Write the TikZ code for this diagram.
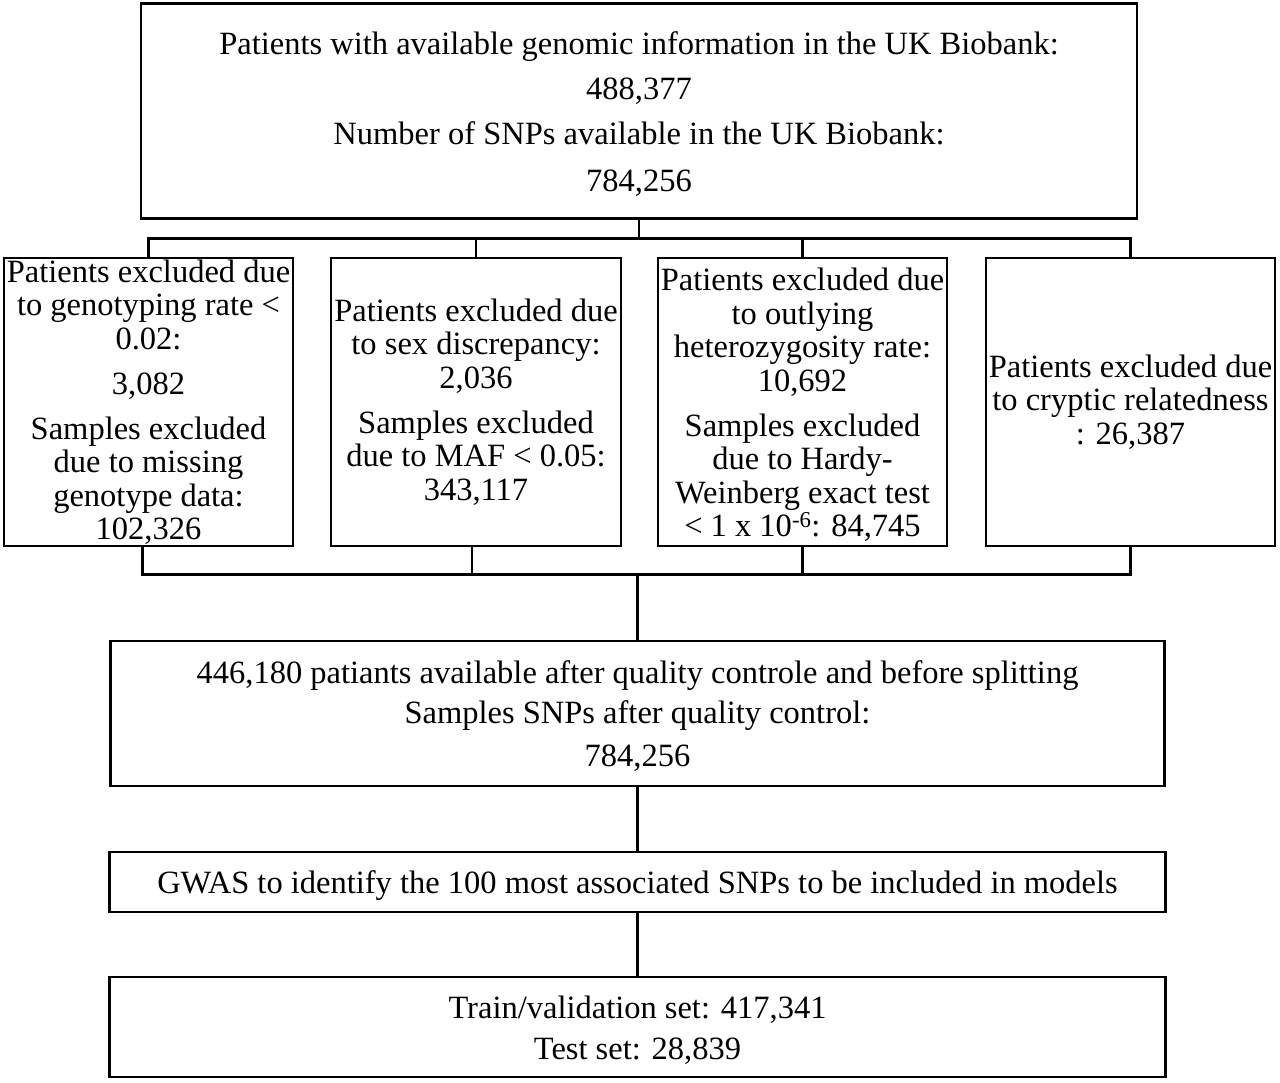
\documentclass[tikz,border=0pt]{standalone}
\usepackage{fontspec}
\setmainfont{Liberation Serif}
\usetikzlibrary{calc}
\begin{document}
\begin{tikzpicture}[x=1pt,y=-1pt,
  box/.style={draw, line width=2.6pt, inner sep=0pt, align=center, anchor=center},
  conn/.style={line width=2.6pt},
  txt/.style={font=\fontsize{32.5}{33.5}\selectfont}]
\useasboundingbox (0,0) rectangle (1280,1083);

\node[box, minimum width=996pt, minimum height=215pt, font=\fontsize{32.5}{45}\selectfont] (top) at (639,111)
  {\rule{0pt}{30pt}Patients with available genomic information in the UK Biobank:\\
   488,377\\
   Number of SNPs available in the UK Biobank:\\[2pt]
   784,256};

\node[box, txt, minimum width=289pt, minimum height=288pt] (b1) at (148.5,402)
  {Patients excluded due\\ to genotyping rate <\\ 0.02:\\[11.5pt]
   3,082\\[11.5pt]
   Samples excluded\\ due to missing\\ genotype data:\\ 102,326};

\node[box, txt, minimum width=290pt, minimum height=288pt] (b2) at (476,402)
  {Patients excluded due\\ to sex discrepancy:\\ 2,036\\[11.5pt]
   Samples excluded\\ due to MAF < 0.05:\\ 343,117};

\node[box, txt, minimum width=289pt, minimum height=288pt] (b3) at (802.5,402)
  {\rule{0pt}{28.5pt}Patients excluded due\\ to outlying\\ heterozygosity rate:\\ 10,692\\[11.5pt]
   Samples excluded\\ due to Hardy-\\ Weinberg exact test\\ < 1 x 10\textsuperscript{-6}: 84,745};

\node[box, txt, minimum width=289pt, minimum height=288pt] (b4) at (1130.5,402)
  {Patients excluded due\\ to cryptic relatedness\\ : 26,387};

\node[box, minimum width=1054pt, minimum height=145pt, font=\fontsize{32.5}{40}\selectfont] (b5) at (637.5,713.5)
  {\rule{0pt}{28.5pt}446,180 patiants available after quality controle and before splitting\\
   Samples SNPs after quality control:\\[3pt]
   784,256};

\node[box, minimum width=1056pt, minimum height=60pt, font=\fontsize{32.5}{36}\selectfont] (b6) at (637.5,882)
  {\rule{0pt}{30pt}GWAS to identify the 100 most associated SNPs to be included in models};

\node[box, minimum width=1056pt, minimum height=100pt, font=\fontsize{32.5}{41}\selectfont] (b7) at (637.5,1027)
  {\rule{0pt}{28.5pt}Train/validation set: 417,341\\ Test set: 28,839};

% distribution from top box
\coordinate (j1) at ($(top.south)+(0,19)$);
\draw[conn] (top.south) -- (j1);
\draw[conn] (b1.north) |- (j1);
\draw[conn] (b2.north) |- (j1);
\draw[conn] (b3.north) |- (j1);
\draw[conn] (b4.north) |- (j1);

% collector to b5
\coordinate (j2) at ($(b5.north)+(0,-65)$);
\draw[conn] ([xshift=-6pt]b1.south) |- (j2);
\draw[conn] ([xshift=-4pt]b2.south) |- (j2);
\draw[conn] (b3.south) |- (j2);
\draw[conn] (b4.south) |- (j2);
\draw[conn] (j2) -- (b5.north);

\draw[conn] (b5.south) -- (b6.north);
\draw[conn] (b6.south) -- (b7.north);
\end{tikzpicture}
\end{document}
